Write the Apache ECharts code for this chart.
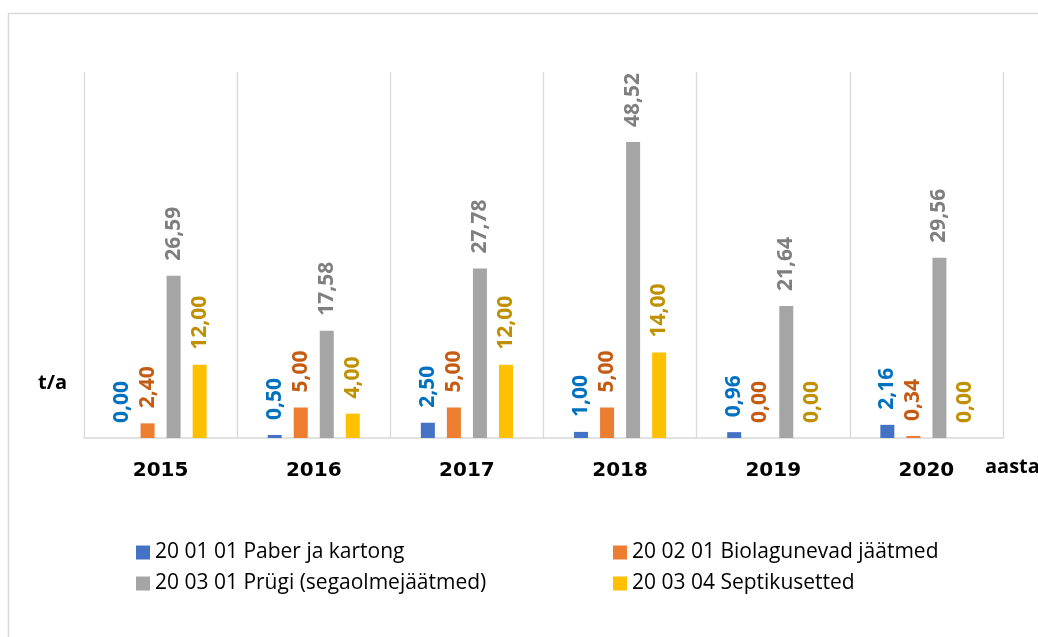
<!DOCTYPE html>
<html>
<head>
<meta charset="utf-8">
<title>Jäätmed</title>
<script src="https://cdn.jsdelivr.net/npm/echarts@6/dist/echarts.min.js"></script>
<style>
  html, body { margin: 0; padding: 0; background: #fff; }
  #main { width: 1038px; height: 637px; }
</style>
</head>
<body>
<div id="main"></div>
<script>
  // aastad
  var years = ['2015', '2016', '2017', '2018', '2019', '2020'];
  // t/a
  var paber = [0.00, 0.50, 2.50, 1.00, 0.96, 2.16];
  var bio = [2.40, 5.00, 5.00, 5.00, 0.00, 0.34];
  var prygi = [26.59, 17.58, 27.78, 48.52, 21.64, 29.56];
  var septik = [12.00, 4.00, 12.00, 14.00, 0.00, 0.00];
  var seriesNames = ['20 01 01 Paber ja kartong', '20 02 01 Biolagunevad jäätmed',
    '20 03 01 Prügi (segaolmejäätmed)', '20 03 04 Septikusetted'];

  var barColors = ['#4472C4', '#ED7D31', '#A5A5A5', '#FFC000'];
  var labelColors = ['#0070C0', '#C55A11', '#7F7F7F', '#BF9000'];

  function fmt(p) {
    return p.value.toFixed(2).replace('.', ',');
  }

  function makeBar(i, data) {
    return {
      name: seriesNames[i],
      type: 'bar',
      data: data,
      barWidth: 14,
      barGap: '86%',
      itemStyle: { color: barColors[i] },
      label: {
        show: true,
        position: 'top',
        rotate: 90,
        align: 'left',
        verticalAlign: 'middle',
        distance: 15,
        formatter: fmt,
        color: labelColors[i],
        fontFamily: 'Open Sans',
        fontWeight: 'bold',
        fontSize: 21
      }
    };
  }

  var chart = echarts.init(document.getElementById('main'));
  var legendText = { fontFamily: 'Open Sans', fontSize: 21, color: '#000', lineHeight: 20 };

  var option = {
    animation: false,
    grid: { left: 84, right: 35, top: 72, bottom: 199 },
    xAxis: {
      type: 'category',
      data: years,
      axisLine: { show: true, lineStyle: { color: '#d9d9d9', width: 1.5 } },
      axisTick: { show: false },
      axisLabel: {
        margin: 23,
        color: '#000',
        fontFamily: 'DejaVu Sans',
        fontWeight: 'bold',
        fontSize: 20
      },
      splitLine: { show: true, lineStyle: { color: '#d9d9d9', width: 1.3 } }
    },
    yAxis: {
      type: 'value',
      min: 0,
      max: 60,
      axisLabel: { show: false },
      axisLine: { show: false },
      axisTick: { show: false },
      splitLine: { show: false }
    },
    legend: [
      {
        orient: 'vertical',
        left: 136,
        top: 542,
        padding: 0,
        itemWidth: 14,
        itemHeight: 14,
        itemGap: 10,
        icon: 'rect',
        data: [seriesNames[0], seriesNames[2]],
        textStyle: legendText
      },
      {
        orient: 'vertical',
        left: 613,
        top: 542,
        padding: 0,
        itemWidth: 14,
        itemHeight: 14,
        itemGap: 10,
        icon: 'rect',
        data: [seriesNames[1], seriesNames[3]],
        textStyle: legendText
      }
    ],
    graphic: [
      {
        type: 'rect',
        shape: { x: 8.5, y: 13.5, width: 1100, height: 700 },
        style: { fill: 'none', stroke: '#d9d9d9', lineWidth: 1.5 },
        silent: true
      },
      {
        type: 'text',
        left: 38,
        top: 373,
        style: { text: 't/a', fontFamily: 'Open Sans', fontWeight: 'bold', fontSize: 20, fill: '#000' }
      },
      {
        type: 'text',
        left: 985,
        top: 457,
        style: { text: 'aasta', fontFamily: 'Open Sans', fontWeight: 'bold', fontSize: 20, fill: '#000' }
      }
    ],
    series: [
      makeBar(0, paber),
      makeBar(1, bio),
      makeBar(2, prygi),
      makeBar(3, septik)
    ]
  };

  chart.setOption(option);
</script>
</body>
</html>
